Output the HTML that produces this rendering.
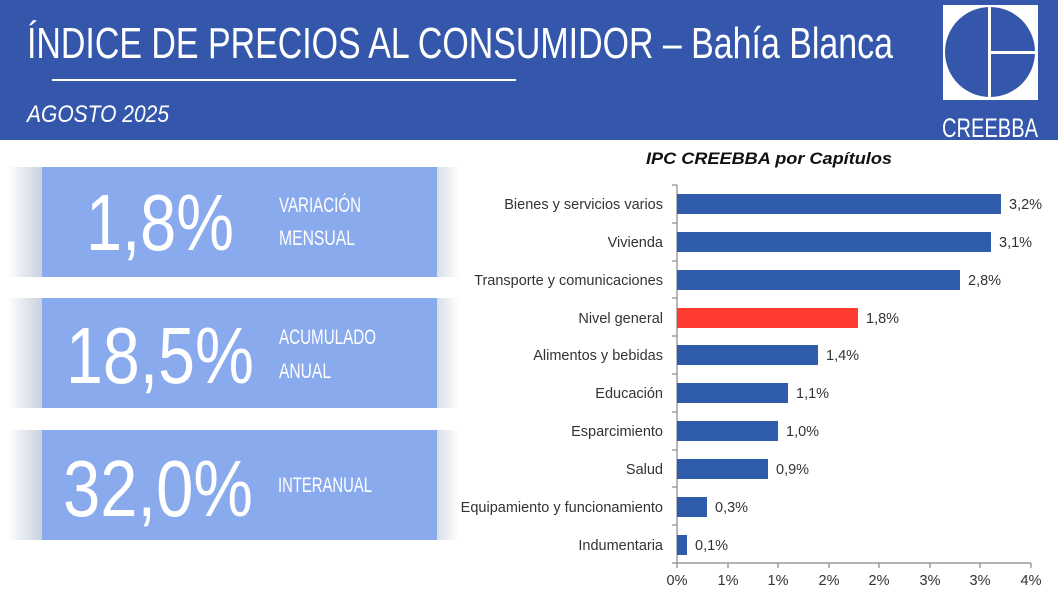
<!DOCTYPE html>
<html><head><meta charset="utf-8"><style>
html,body{margin:0;padding:0;background:#fff}
svg{display:block}
</style></head><body>
<svg width="1058" height="595" viewBox="0 0 1058 595" xmlns="http://www.w3.org/2000/svg" font-family="Liberation Sans, sans-serif">
<defs>
<linearGradient id="sh" x1="0" x2="1" y1="0" y2="0">
<stop offset="0" stop-color="#fff"/><stop offset="1" stop-color="#c8d1de"/></linearGradient>
<linearGradient id="shr" x1="0" x2="1" y1="0" y2="0">
<stop offset="0" stop-color="#d8dee8"/><stop offset="1" stop-color="#fff"/></linearGradient>
</defs>
<rect x="0" y="0" width="1058" height="140" fill="#3457AB"/>
<text x="27" y="58" font-size="44" fill="#fff" textLength="866" lengthAdjust="spacingAndGlyphs">ÍNDICE DE PRECIOS AL CONSUMIDOR – Bahía Blanca</text>
<rect x="52" y="79" width="464" height="2" fill="#fff"/>
<text x="27" y="122" font-size="24" font-style="italic" fill="#fff" textLength="142" lengthAdjust="spacingAndGlyphs">AGOSTO 2025</text>
<rect x="943" y="5" width="95" height="95" fill="#fff"/>
<circle cx="990" cy="52" r="45" fill="#3457AB"/>
<rect x="988" y="5" width="3" height="95" fill="#fff"/>
<rect x="990" y="51" width="48" height="3" fill="#fff"/>
<text x="990" y="137" font-size="27" fill="#fff" text-anchor="middle" textLength="96" lengthAdjust="spacingAndGlyphs">CREEBBA</text>

<g>
<rect x="8" y="167" width="34" height="110" fill="url(#sh)"/><rect x="437" y="167" width="22" height="110" fill="url(#shr)"/>
<rect x="42" y="167" width="395" height="110" fill="#8AAAEE"/>
<text x="160" y="250" font-size="80" fill="#fff" text-anchor="middle" textLength="148" lengthAdjust="spacingAndGlyphs">1,8%</text>
<text x="279" y="212" font-size="21" fill="#fff" textLength="82" lengthAdjust="spacingAndGlyphs">VARIACIÓN</text>
<text x="279" y="245" font-size="21" fill="#fff" textLength="76" lengthAdjust="spacingAndGlyphs">MENSUAL</text>

<rect x="8" y="298" width="34" height="110" fill="url(#sh)"/><rect x="437" y="298" width="22" height="110" fill="url(#shr)"/>
<rect x="42" y="298" width="395" height="110" fill="#8AAAEE"/>
<text x="160" y="383" font-size="80" fill="#fff" text-anchor="middle" textLength="188" lengthAdjust="spacingAndGlyphs">18,5%</text>
<text x="279" y="344" font-size="21" fill="#fff" textLength="97" lengthAdjust="spacingAndGlyphs">ACUMULADO</text>
<text x="279" y="378" font-size="21" fill="#fff" textLength="52" lengthAdjust="spacingAndGlyphs">ANUAL</text>

<rect x="8" y="430" width="34" height="110" fill="url(#sh)"/><rect x="437" y="430" width="22" height="110" fill="url(#shr)"/>
<rect x="42" y="430" width="395" height="110" fill="#8AAAEE"/>
<text x="158" y="516" font-size="80" fill="#fff" text-anchor="middle" textLength="190" lengthAdjust="spacingAndGlyphs">32,0%</text>
<text x="278" y="492" font-size="21" fill="#fff" textLength="94" lengthAdjust="spacingAndGlyphs">INTERANUAL</text>
</g>

<text x="769" y="164" font-size="17" font-weight="bold" font-style="italic" fill="#111" text-anchor="middle" textLength="246" lengthAdjust="spacingAndGlyphs">IPC CREEBBA por Capítulos</text>

<g stroke="#888" stroke-width="1.2">
<line x1="677" y1="185" x2="677" y2="563"/>
<line x1="677" y1="563" x2="1031" y2="563"/>
<line x1="672" y1="185" x2="677" y2="185"/><line x1="672" y1="223" x2="677" y2="223"/><line x1="672" y1="261" x2="677" y2="261"/><line x1="672" y1="298" x2="677" y2="298"/><line x1="672" y1="336" x2="677" y2="336"/><line x1="672" y1="374" x2="677" y2="374"/><line x1="672" y1="412" x2="677" y2="412"/><line x1="672" y1="450" x2="677" y2="450"/><line x1="672" y1="487" x2="677" y2="487"/><line x1="672" y1="525" x2="677" y2="525"/><line x1="672" y1="563" x2="677" y2="563"/>
<line x1="677" y1="563" x2="677" y2="568"/><line x1="728" y1="563" x2="728" y2="568"/><line x1="778" y1="563" x2="778" y2="568"/><line x1="829" y1="563" x2="829" y2="568"/><line x1="879" y1="563" x2="879" y2="568"/><line x1="930" y1="563" x2="930" y2="568"/><line x1="980" y1="563" x2="980" y2="568"/><line x1="1031" y1="563" x2="1031" y2="568"/>
</g>
<g font-size="14.5" fill="#333" text-anchor="middle">
<text x="677" y="585">0%</text><text x="728" y="585">1%</text><text x="778" y="585">1%</text><text x="829" y="585">2%</text><text x="879" y="585">2%</text><text x="930" y="585">3%</text><text x="980" y="585">3%</text><text x="1031" y="585">4%</text>
</g>
<g font-size="14.5" fill="#333" text-anchor="end">
<text x="663" y="209">Bienes y servicios varios</text>
<text x="663" y="247">Vivienda</text>
<text x="663" y="285">Transporte y comunicaciones</text>
<text x="663" y="323">Nivel general</text>
<text x="663" y="360">Alimentos y bebidas</text>
<text x="663" y="398">Educación</text>
<text x="663" y="436">Esparcimiento</text>
<text x="663" y="474">Salud</text>
<text x="663" y="512">Equipamiento y funcionamiento</text>
<text x="663" y="550">Indumentaria</text>
</g>
<g fill="#2F5CAB">
<rect x="677" y="194" width="324" height="20"/>
<rect x="677" y="232" width="314" height="20"/>
<rect x="677" y="270" width="283" height="20"/>
<rect x="677" y="308" width="181" height="20" fill="#FF3B30"/>
<rect x="677" y="345" width="141" height="20"/>
<rect x="677" y="383" width="111" height="20"/>
<rect x="677" y="421" width="101" height="20"/>
<rect x="677" y="459" width="91" height="20"/>
<rect x="677" y="497" width="30" height="20"/>
<rect x="677" y="535" width="10" height="20"/>
</g>
<g font-size="14.5" fill="#333">
<text x="1009" y="209">3,2%</text>
<text x="999" y="247">3,1%</text>
<text x="968" y="285">2,8%</text>
<text x="866" y="323">1,8%</text>
<text x="826" y="360">1,4%</text>
<text x="796" y="398">1,1%</text>
<text x="786" y="436">1,0%</text>
<text x="776" y="474">0,9%</text>
<text x="715" y="512">0,3%</text>
<text x="695" y="550">0,1%</text>
</g>
</svg>
</body></html>
